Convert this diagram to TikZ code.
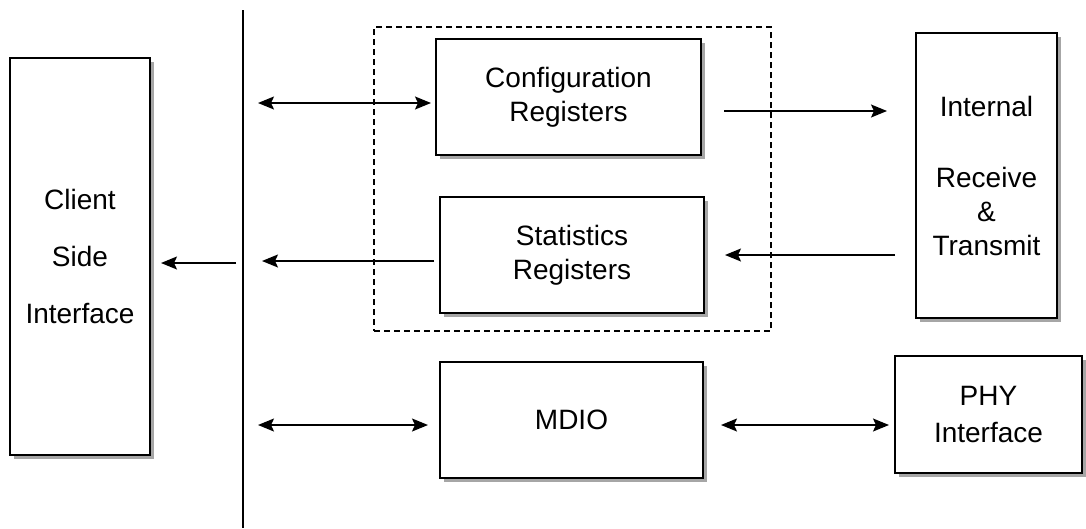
\documentclass[tikz,border=0pt]{standalone}
\usepackage{fontspec}
\setmainfont{Liberation Sans}
\usetikzlibrary{shadows}
\usetikzlibrary{arrows.meta}

\begin{document}
\begin{tikzpicture}[x=1pt,y=-1pt]
    \tikzset{
        block/.style={draw, line width=2pt, fill=white, align=center, inner sep=0pt,
            font=\fontsize{28}{34}\selectfont,
            drop shadow={shadow xshift=4pt, shadow yshift=-4pt, fill=gray!70, opacity=1}},
        onearrow/.style={line width=1.5pt, -{Stealth[length=16pt,width=13pt,inset=3pt]}},
        biarrow/.style={line width=1.5pt, {Stealth[length=16pt,width=13pt,inset=3pt]}-{Stealth[length=16pt,width=13pt,inset=3pt]}},
        plain/.style={line width=1.5pt},
    }
    \useasboundingbox (0,0) rectangle (1086,528);

    % blocks
    \node[draw, dashed, dash pattern=on 6pt off 4pt, line width=1.3pt,
        minimum width=397pt, minimum height=304pt] (frame) at (572.5,179) {};
    \node[block, minimum width=140pt, minimum height=397pt] (client) at (80,256.5)
        {Client\\[23pt]Side\\[23pt]Interface};
    \node[block, minimum width=265pt, minimum height=116pt] (cfg) at (568.5,97)
        {Configuration\\Registers};
    \node[block, minimum width=264pt, minimum height=116pt] (stats) at (572,255)
        {Statistics\\Registers};
    \node[block, minimum width=141pt, minimum height=285pt] (internal) at (986.5,175.5)
        {Internal\\[37pt]Receive\\\&\\Transmit};
    \node[block, minimum width=263pt, minimum height=116pt] (mdio) at (571.5,420) {MDIO};
    \node[block, minimum width=187pt, minimum height=117pt] (phy) at (988.5,414)
        {PHY\\[3pt]Interface};

    % bus line
    \coordinate (bustop) at (243,10);
    \coordinate (busbot) at (243,528);
    \draw[plain] (bustop) -- (busbot);

    \coordinate (busclient) at (236,263);
    \coordinate (busstats) at (262,261);
    \coordinate (buscfg) at (258,103);
    \coordinate (busmdio) at (258,425);

    % connectors
    \draw[onearrow, shorten >=10pt] (busclient) -- (busclient -| client.east);
    \draw[onearrow, shorten <=5pt] (busstats -| stats.west) -- (busstats);
    \draw[biarrow, shorten >=4pt] (buscfg) -- (buscfg -| cfg.west);
    \draw[biarrow, shorten >=11pt] (busmdio) -- (busmdio -| mdio.west);
    \draw[onearrow, shorten <=22pt, shorten >=28pt] (cfg.east |- 0,111) -- (internal.west |- 0,111);
    \draw[onearrow, shorten <=20pt, shorten >=20pt] (internal.west |- 0,255) -- (stats.east |- 0,255);
    \draw[biarrow, shorten <=17pt, shorten >=5pt] (mdio.east |- 0,425) -- (phy.west |- 0,425);
\end{tikzpicture}
\end{document}
